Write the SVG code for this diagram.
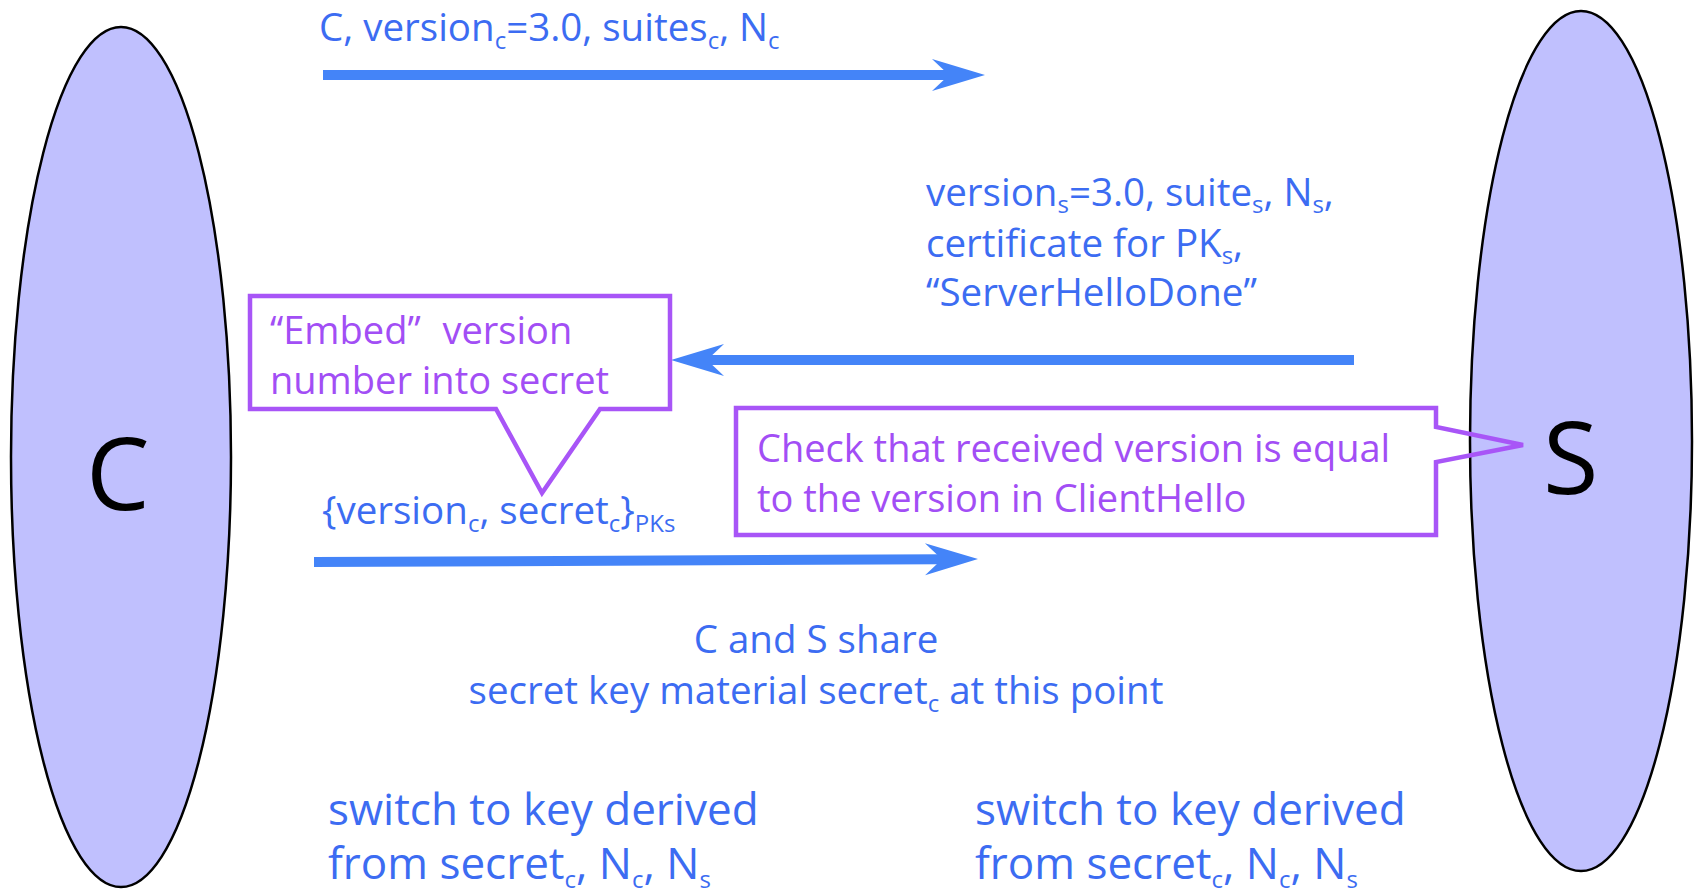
<svg xmlns="http://www.w3.org/2000/svg" width="1698" height="893" viewBox="0 0 1698 893">
  <style>
    text { font-family: "Open Sans", "Noto Sans", "Liberation Sans", sans-serif; }
    .msg { fill: #3c6cf2; font-size: 38.5px; }
    .big { fill: #3c6cf2; font-size: 44px; }
    .note { fill: #a24ef5; font-size: 38px; }
    .party { fill: #000000; font-size: 101px; }
    .sub { font-size: 24px; }
    .actor { fill: #c0c0fe; stroke: #000000; stroke-width: 2.5; }
    .flow { stroke: #4484f8; stroke-width: 10; fill: none; marker-end: url(#head); }
    .callout { fill: none; stroke: #a855f7; stroke-width: 4.5; stroke-linejoin: miter; }
  </style>
  <defs>
    <marker id="head" markerUnits="userSpaceOnUse" viewBox="-18 -17 55 34" refX="0" refY="0" markerWidth="55" markerHeight="34" orient="auto">
      <path d="M36,0 L-17,-16 L0,0 L-17,16 Z" fill="#4484f8"/>
    </marker>
  </defs>

  <rect width="1698" height="893" fill="#ffffff"/>

  <!-- client -->
  <g id="client">
    <ellipse class="actor" cx="121" cy="457" rx="110" ry="430"/>
    <text class="party" x="86" y="510">C</text>
  </g>

  <!-- server -->
  <g id="server">
    <ellipse class="actor" cx="1581" cy="441" rx="111" ry="430"/>
    <text class="party" x="1543" y="494">S</text>
  </g>

  <!-- message arrows -->
  <g id="connectors">
    <line class="flow" x1="323" y1="75" x2="949" y2="75"/>
    <line class="flow" x1="1354" y1="360" x2="707" y2="360"/>
    <line class="flow" x1="314" y1="562" x2="942" y2="559.2"/>
  </g>

  <!-- message labels -->
  <g id="client-hello">
    <text class="msg" x="319" y="41">C, version<tspan class="sub" dy="8">c</tspan><tspan dy="-8">=3.0, suites</tspan><tspan class="sub" dy="8">c</tspan><tspan dy="-8">, N</tspan><tspan class="sub" dy="8">c</tspan></text>
  </g>

  <g id="server-hello">
    <text class="msg" x="926" y="206">version<tspan class="sub" dy="7">s</tspan><tspan dy="-7">=3.0, suite</tspan><tspan class="sub" dy="7">s</tspan><tspan dy="-7">, N</tspan><tspan class="sub" dy="7">s</tspan><tspan dy="-7">,</tspan></text>
    <text class="msg" x="926" y="257">certificate for PK<tspan class="sub" dy="7">s</tspan><tspan dy="-7">,</tspan></text>
    <text class="msg" x="926" y="306">“ServerHelloDone”</text>
  </g>

  <g id="key-exchange">
    <text class="msg" x="322" y="524">{version<tspan class="sub" dy="8">c</tspan><tspan dy="-8">, secret</tspan><tspan class="sub" dy="8">c</tspan><tspan dy="-8">}</tspan><tspan class="sub" dy="8">PKs</tspan></text>
  </g>

  <!-- callouts -->
  <g id="embed-note">
    <path class="callout" d="M250,296 H670 V409 H600 L542,493 L496,409 H250 Z"/>
    <text class="note" x="270" y="344">“Embed”<tspan dx="12"> version</tspan></text>
    <text class="note" x="270" y="394">number into secret</text>
  </g>

  <g id="check-note">
    <path class="callout" d="M736,408 H1436 V427 L1523,445 L1436,462 V535 H736 Z"/>
    <text class="note" x="757" y="462">Check that received version is equal</text>
    <text class="note" x="757" y="512">to the version in ClientHello</text>
  </g>

  <!-- shared state -->
  <g id="shared-secret">
    <text class="msg" x="816" y="653" text-anchor="middle">C and S share</text>
    <text class="msg" x="816" y="704" text-anchor="middle">secret key material secret<tspan class="sub" dy="8">c</tspan><tspan dy="-8"> at this point</tspan></text>
  </g>

  <g id="client-switch">
    <text class="big" x="328" y="825">switch to key derived</text>
    <text class="big" x="328" y="879">from secret<tspan class="sub" dy="9">c</tspan><tspan dy="-9">, N</tspan><tspan class="sub" dy="9">c</tspan><tspan dy="-9">, N</tspan><tspan class="sub" dy="9">s</tspan></text>
  </g>

  <g id="server-switch">
    <text class="big" x="975" y="825">switch to key derived</text>
    <text class="big" x="975" y="879">from secret<tspan class="sub" dy="9">c</tspan><tspan dy="-9">, N</tspan><tspan class="sub" dy="9">c</tspan><tspan dy="-9">, N</tspan><tspan class="sub" dy="9">s</tspan></text>
  </g>
</svg>
